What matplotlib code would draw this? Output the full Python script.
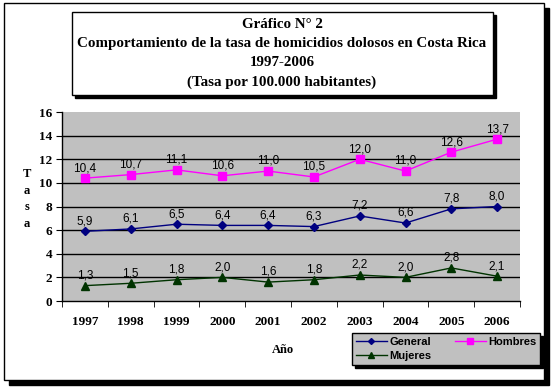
import matplotlib
matplotlib.use("Agg")
import matplotlib.pyplot as plt
from matplotlib.patches import Rectangle

years = ["1997", "1998", "1999", "2000", "2001", "2002", "2003", "2004", "2005", "2006"]
general = [5.9, 6.1, 6.5, 6.4, 6.4, 6.3, 7.2, 6.6, 7.8, 8.0]
hombres = [10.4, 10.7, 11.1, 10.6, 11.0, 10.5, 12.0, 11.0, 12.6, 13.7]
mujeres = [1.3, 1.5, 1.8, 2.0, 1.6, 1.8, 2.2, 2.0, 2.8, 2.1]

serif = "Liberation Serif"
sans = "Liberation Sans"

W, H = 553, 390
fig = plt.figure(figsize=(W / 100, H / 100), dpi=100)


def box(x0, y0, x1, y1, face, shadow=3, lw=1.2, z=0):
    # pixel coords (top-left origin) -> figure fraction
    fig.patches.append(Rectangle(((x0 + shadow) / W, 1 - (y1 + shadow) / H),
                                 (x1 - x0) / W, (y1 - y0) / H,
                                 transform=fig.transFigure, facecolor="black",
                                 edgecolor="black", zorder=z))
    fig.patches.append(Rectangle((x0 / W, 1 - y1 / H), (x1 - x0) / W, (y1 - y0) / H,
                                 transform=fig.transFigure, facecolor=face,
                                 edgecolor="black", lw=lw, zorder=z + 0.5))


# outer frame and title box
box(4, 3, 544, 380, "white", shadow=5, lw=1.0, z=0)
box(72, 12, 493, 95, "white", shadow=3, lw=1.0, z=1)

title_lines = ["Gráfico N° 2",
               "Comportamiento de la tasa de homicidios dolosos en Costa Rica",
               "1997-2006",
               "(Tasa por 100.000 habitantes)"]
title_y = [24, 43, 63, 82]
for line, ty in zip(title_lines, title_y):
    fig.text(282 / W, 1 - ty / H, line, ha="center", va="center",
             fontsize=10.8, fontweight="bold", family=serif, zorder=3)

ax = fig.add_axes([62 / W, 1 - 301 / H, (520 - 62) / W, (301 - 112) / H], zorder=2)
ax.set_facecolor("#C0C0C0")
x = list(range(len(years)))

series = [
    ("General", general, "#000080", "D", 4),
    ("Hombres", hombres, "#FF00FF", "s", 6),
    ("Mujeres", mujeres, "#003300", "^", 6),
]
handles = {}
for name, vals, col, mk, ms in series:
    h, = ax.plot(x, vals, color=col, lw=1, marker=mk, markersize=ms, label=name,
                 markeredgecolor=col, markerfacecolor=col, zorder=3)
    handles[name] = h
    for xi, v in zip(x, vals):
        ax.text(xi, v + 0.35, f"{v:.1f}".replace(".", ","), ha="center", va="bottom",
                fontsize=8.5, family=sans, color="black", zorder=4)

ax.set_xlim(-0.5, len(years) - 0.5)
ax.set_ylim(0, 16)
ax.set_yticks(range(0, 17, 2))
for yv in range(2, 16, 2):
    ax.axhline(yv, color="black", lw=1, zorder=1)
ax.set_xticks(x)
ax.set_xticklabels(years)
ax.set_xticks([i + 0.5 for i in range(-1, len(years))], minor=True)
ax.tick_params(axis="x", which="major", length=0, pad=11)
ax.tick_params(axis="x", which="minor", length=4, direction="out")
ax.tick_params(axis="y", length=4, direction="out", pad=3)
for lbl in ax.get_xticklabels() + ax.get_yticklabels():
    lbl.set_fontfamily(serif)
    lbl.set_fontweight("bold")
    lbl.set_fontsize(9.5)
for side in ["top", "right"]:
    ax.spines[side].set_visible(False)
ax.spines["left"].set_linewidth(1)
ax.spines["bottom"].set_linewidth(1)

fig.text(27 / W, 1 - 199 / H, "T\na\ns\na", ha="center", va="center",
         fontsize=9, fontweight="bold", family=serif, linespacing=1.5)
fig.text(283 / W, 1 - 350 / H, "Año", ha="center", va="center",
         fontsize=9, fontweight="bold", family=serif)

order = ["General", "Mujeres", "Hombres"]
leg = fig.legend([handles[n] for n in order], order,
                 loc="upper left", bbox_to_anchor=(352 / W, 1 - 333 / H), ncol=2,
                 fancybox=False, shadow={"color": "black", "alpha": 1},
                 facecolor="#C0C0C0", edgecolor="black", framealpha=1,
                 prop={"family": sans, "weight": "bold", "size": 8},
                 markerscale=0.75, handlelength=2.8, handletextpad=0.2,
                 columnspacing=2.1, labelspacing=0.4, borderpad=0.35,
                 borderaxespad=0)
leg.set_zorder(5)

fig.savefig("out.png", dpi=100, facecolor="white")
